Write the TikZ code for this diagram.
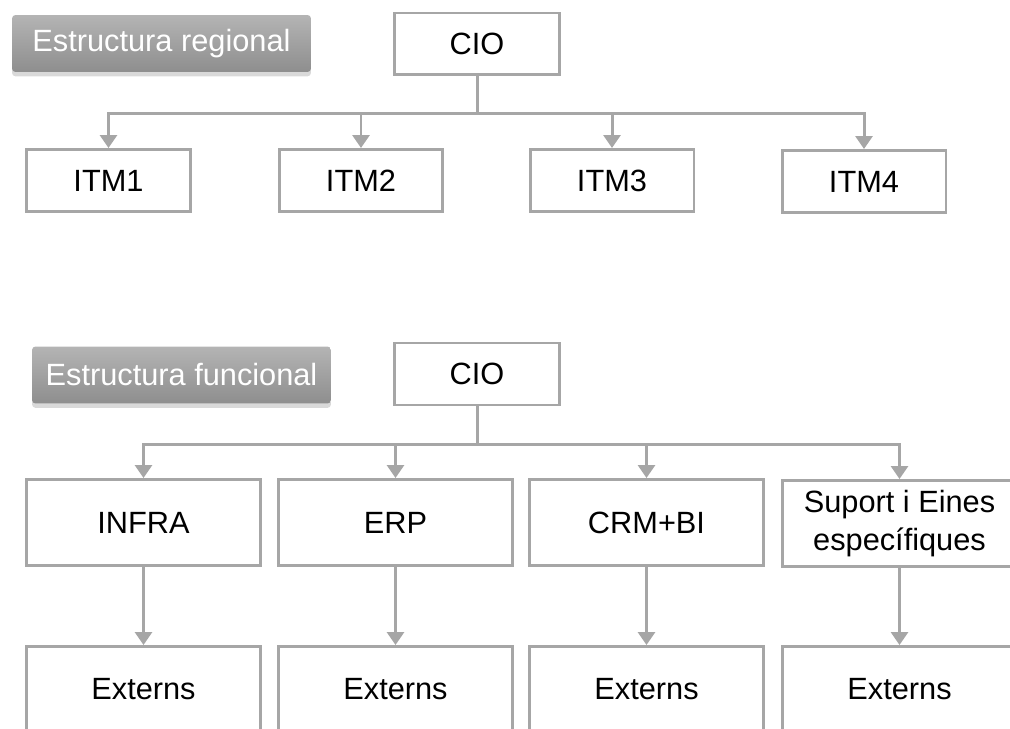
\documentclass[tikz,border=0pt]{standalone}
\usepackage{fontspec}
\setmainfont{Liberation Sans}
\usetikzlibrary{arrows.meta,shadows}
\definecolor{linegray}{HTML}{A6A6A6}
\definecolor{tagtop}{HTML}{B4B4B4}
\definecolor{tagbottom}{HTML}{8E8E8E}
\begin{document}
\begin{tikzpicture}[x=0.02cm, y=-0.02cm,
  box/.style={draw=linegray, line width=1.7pt, fill=white, inner sep=2pt,
    align=center, font=\fontsize{17.5}{21.5}\selectfont},
  ciobox/.style={box, minimum width=3.3cm, minimum height=1.24cm},
  itmbox/.style={box, minimum width=3.28cm, minimum height=1.24cm},
  areabox/.style={box, minimum width=4.68cm, minimum height=1.72cm},
  tagbox/.style={top color=tagtop, bottom color=tagbottom, text=white,
    rounded corners=2pt, minimum width=5.98cm, minimum height=1.14cm,
    drop shadow={opacity=0.3, shadow xshift=0pt, shadow yshift=-2.5pt},
    font=\fontsize{17.5}{20}\selectfont},
  link/.style={draw=linegray, line width=1.7pt,
    -{Triangle[width=0.34cm, length=0.26cm]}}]
\useasboundingbox (0,0) rectangle (1010,729);
\clip (0,0) rectangle (1010,729);
% regional structure
\node[tagbox] (tagA) at (161.5,43.5) {Estructura regional};
\node[ciobox] (cioA) at (477,44) {CIO};
\node[itmbox] (itm1) at (108.5,180.5) {ITM1};
\node[itmbox] (itm2) at (361,180.5) {ITM2};
\node[itmbox] (itm3) at (612,180.5) {ITM3};
\node[itmbox] (itm4) at (864,181.5) {ITM4};
\draw[link] (cioA.south) -- ++(0,37) -| (itm1.north);
\draw[link] (cioA.south) -- ++(0,37) -| (itm2.north);
\draw[link] (cioA.south) -- ++(0,37) -| (itm3.north);
\draw[link] (cioA.south) -- ++(0,37) -| (itm4.north);
% functional structure
\node[tagbox] (tagB) at (181.5,375) {Estructura funcional};
\node[ciobox] (cioB) at (477,374) {CIO};
\node[areabox] (infra) at (143.5,522.5) {INFRA};
\node[areabox] (erp) at (395.5,522.5) {ERP};
\node[areabox] (crm) at (646.5,522.5) {CRM+BI};
\node[areabox] (suport) at (899.5,523.5) {Suport i Eines\\específiques};
\node[areabox] (extInfra) at (143.5,689.5) {Externs};
\node[areabox] (extErp) at (395.5,689.5) {Externs};
\node[areabox] (extCrm) at (646.5,689.5) {Externs};
\node[areabox] (extSuport) at (899.5,689.5) {Externs};
\draw[link] (cioB.south) -- ++(0,38) -| (infra.north);
\draw[link] (cioB.south) -- ++(0,38) -| (erp.north);
\draw[link] (cioB.south) -- ++(0,38) -| (crm.north);
\draw[link] (cioB.south) -- ++(0,38) -| (suport.north);
\draw[link] (infra) -- (extInfra);
\draw[link] (erp) -- (extErp);
\draw[link] (crm) -- (extCrm);
\draw[link] (suport) -- (extSuport);
\end{tikzpicture}
\end{document}
